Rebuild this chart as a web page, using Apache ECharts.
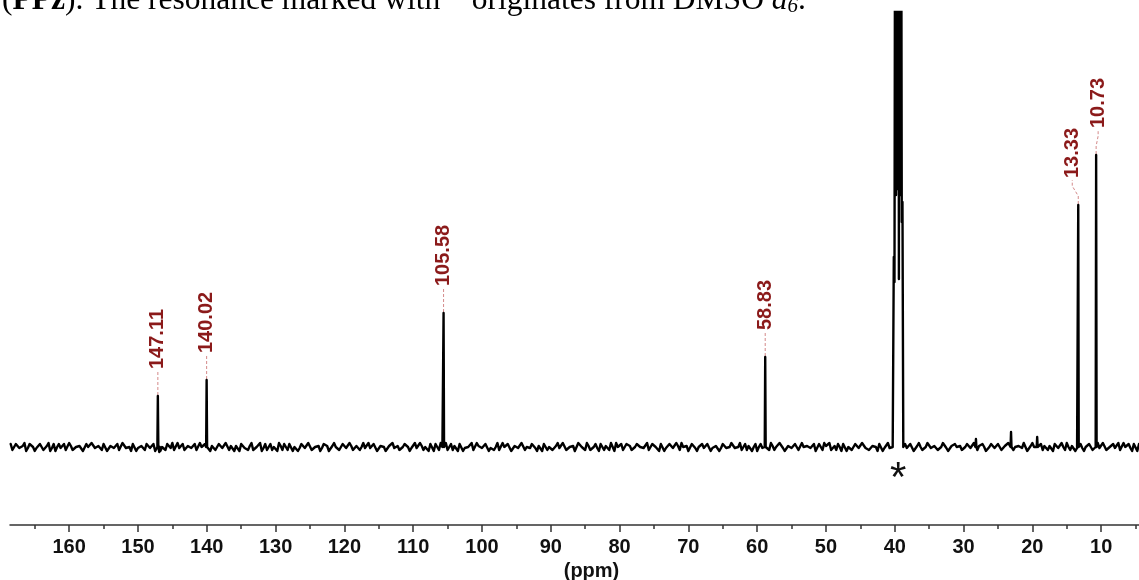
<!DOCTYPE html>
<html><head><meta charset="utf-8">
<script src="https://cdn.jsdelivr.net/npm/echarts@6/dist/echarts.min.js"></script>
<style>html,body{margin:0;padding:0;background:#fff}#c{width:1139px;height:580px}</style>
</head><body><div id="c"></div>
<script>
// ---- axis ticks (ppm) ----
const majorTicks = [10,20,30,40,50,60,70,80,90,100,110,120,130,140,150,160];
const minorTicks = [5,15,25,35,45,55,65,75,85,95,105,115,125,135,145,155,165];
// ---- labelled resonances ----
const peakPpm    = [147.11, 140.02, 105.58, 58.83, 13.33, 10.73];
const peakHeight = [51, 67, 134, 90, 242, 292];
const peakLabels = ['147.11', '140.02', '105.58', '58.83', '13.33', '10.73'];
// ---- small unlabelled signals ----
const minorPpm    = [146.9, 28.2, 23.1, 19.3];
const minorHeight = [-5, 8, 15, 10];
// ---- DMSO-d6 solvent multiplet (runs off the top) ----
const solventPpm    = [40.30, 40.14, 40.04, 39.93, 39.82, 39.72, 39.61, 39.51, 39.40, 39.30, 39.19, 39.09, 38.98, 38.88, 38.76];
const solventHeight = [0, 190, 165, 700, 252, 1300, 258, 1500, 168, 1300, 252, 700, 225, 245, 0];
// ---- baseline noise: A every 0.5 ppm from 168.5, B every 0.5 ppm from 168.25 ----
const noiseStartA = 168.5, noiseStartB = 168.25, noiseStep = 0.5;
const noiseA = [
3,-4,1,-3,4,-1,3,-4,0,3,-3,4,-1,-4,3,1,-3,4,-3,0,
1,-4,3,-1,4,-3,0,3,-4,1,-1,3,-3,4,0,-4,3,-1,1,-3,
4,-1,-4,3,0,-3,1,4,-3,-1,3,-4,1,0,-3,4,-1,3,-4,1,
-1,3,-3,4,1,-4,0,3,-1,-3,4,-1,1,-4,3,0,-3,1,4,-3,
0,3,-4,1,-1,4,-3,3,-1,0,-4,3,1,-3,4,-1,0,3,-3,1,
-4,3,0,-1,4,-3,1,-3,3,-4,1,4,-1,-3,0,3,-4,1,-1,4,
-3,1,3,-4,0,4,-1,-3,3,1,-4,3,-1,0,4,-3,1,-1,3,-4,
1,0,-3,4,-1,3,-4,1,-3,3,0,-1,4,-4,1,3,-3,0,-1,4,
-3,3,-1,1,-4,4,0,-3,1,-1,3,-4,3,1,-3,0,4,-1,-3,3,
1,-4,3,0,-1,4,-3,1,-1,3,-4,0,3,-3,1,4,-1,-4,3,-1,
0,3,-3,4,-1,1,-4,3,-1,0,3,-3,4,-1,-3,1,0,-4,3,1,
-1,4,-3,0,3,-4,1,-1,3,-3,4,0,-1,1,-4,3,-3,1,4,-1,
-3,0,3,-4,1,-1,4,-3,3,0,-1,1,-4,3,-1,4,-3,1,0,-3,
3,-1,1,-4,4,-3,0,3,-1,1,-3,4,-1,-4,3,0,1,-3,3,-1,
4,-3,1,0,-4,3,-1,3,-3,1,4,-4,0,1,-1,3,-3,4,-1,0,
-3,3,1,-4,3,-1,0,4,-3,1,-1,3,-4,1,0,-3,4,-1,3,-3,
1,-1,4,-3,0,3,-4,1,3,-1,-3,4,0,-1,3,-4,1,-3,4,-1
];
const noiseB = [
-3,3,-1,1,-4,3,0,-1,3,-3,1,-4,3,0,-1,3,-3,1,-4,1,
3,-3,0,4,-1,1,-3,3,-4,0,1,-3,4,-1,0,3,-4,1,-1,3,
-1,3,0,-4,1,3,-1,-3,4,0,-3,1,-1,3,-4,0,3,-1,1,-3,
3,-1,4,-3,0,1,-4,3,-1,1,-3,0,4,-1,-3,3,0,-4,1,3,
-3,1,0,-4,3,-1,4,-3,0,1,-1,3,-4,1,0,-3,3,-1,4,-3,
1,-3,4,0,-1,3,-4,1,0,-3,3,-1,1,-4,3,0,-1,4,-3,1,
0,-4,1,3,-3,0,4,-1,-3,1,3,-4,0,1,-3,4,-1,0,3,-1,
-3,4,-1,0,3,-4,1,-1,4,-3,0,3,-1,1,-4,3,0,-3,1,-1,
4,-3,0,1,-3,3,-1,4,-3,0,-1,3,-3,1,4,-4,0,3,-1,1,
-3,0,4,-1,1,-3,3,0,-4,1,-1,3,-1,4,-3,0,1,-3,3,-4,
1,-1,3,-4,0,3,-1,1,-3,4,-1,0,-3,3,1,-4,3,0,-1,3,
-3,1,0,4,-1,-3,3,-1,4,-4,0,1,-1,3,-3,0,4,-1,-3,1,
3,-4,1,0,-3,3,-1,4,-1,-3,1,0,3,-4,1,-1,3,-3,4,0,
-1,3,-4,1,0,-3,4,-1,1,-3,0,3,-4,1,3,-1,-3,0,4,-1,
-3,1,3,-4,0,1,-3,4,-1,0,3,-3,1,-1,4,-4,1,0,-3,3,
1,-3,0,3,-1,4,-3,0,1,-4,3,-1,0,3,-3,1,-1,4,-3,0,
3,-1,-3,4,0,-1,3,-4,1,-3,0,4,-1,1,-3,3,-4,0,1,-1
];

// ---- layout / style ----
const labelDx = [0, 0, 0, 0, -6, 2];   // horizontal shift (px) of the two crowded labels
const LEAD = 24;                      // connector length (px)
const SANS = '"Liberation Sans", Arial, sans-serif';
const SERIF = '"Liberation Serif", "Times New Roman", serif';

// build spectrum trace
const allPeaks = peakPpm.concat(minorPpm);
const pts = [];
function addNoise(arr, start) {
  arr.forEach((v, i) => {
    const p = start - i * noiseStep;
    if (p > solventPpm[solventPpm.length - 1] - 0.1 && p < solventPpm[0] + 0.1) return;
    if (allPeaks.some(q => Math.abs(q - p) < 0.15)) return;
    pts.push([p, v]);
  });
}
addNoise(noiseA, noiseStartA);
addNoise(noiseB, noiseStartB);
peakPpm.forEach((p, i) => pts.push([p + 0.07, 0], [p, peakHeight[i]], [p - 0.07, 0]));
minorPpm.forEach((p, i) => pts.push([p + 0.07, 0], [p, minorHeight[i]], [p - 0.07, 0]));
solventPpm.forEach((p, i) => pts.push([p, solventHeight[i]]));
pts.sort((a, b) => b[0] - a[0]);

const chart = echarts.init(document.getElementById('c'), null, {renderer: 'canvas'});
const xBase = {type: 'value', inverse: true, min: 4.5, max: 168.6, position: 'bottom', splitLine: {show: false}};
chart.setOption({
  animation: false,
  backgroundColor: '#fff',
  grid: {left: 10, right: 0, top: 12, bottom: 55, containLabel: false, outerBoundsMode: 'none'},
  xAxis: [
    Object.assign({}, xBase, {
      axisLine: {show: true, onZero: false, lineStyle: {color: '#333', width: 1.5}},
      axisTick: {show: true, customValues: majorTicks, length: 7, lineStyle: {color: '#333', width: 1.5}},
      axisLabel: {show: true, customValues: majorTicks, margin: 12, color: '#111',
                  fontFamily: SANS, fontWeight: 'bold', fontSize: 20},
      name: '(ppm)', nameLocation: 'middle', nameGap: 34,
      nameTextStyle: {fontFamily: SANS, fontWeight: 'bold', fontSize: 20, color: '#111', padding: [0, 0, 0, 34]}
    }),
    Object.assign({}, xBase, {
      axisLine: {show: false, onZero: false},
      axisTick: {show: true, customValues: minorTicks, length: 4, lineStyle: {color: '#333', width: 1.5}},
      axisLabel: {show: false}
    })
  ],
  yAxis: {type: 'value', min: -78, max: 435, show: false},
  series: [
    {
      type: 'line', data: pts, showSymbol: false, symbol: 'none', clip: true, sampling: null,
      lineStyle: {color: '#000', width: 2.4, join: 'round', cap: 'round'}, silent: true
    },
    {
      type: 'custom', coordinateSystem: 'cartesian2d', clip: false, silent: true,
      data: peakPpm.map((p, i) => [p, peakHeight[i], i]),
      renderItem: function (params, api) {
        const i = api.value(2);
        const pt = api.coord([api.value(0), api.value(1)]);
        const dx = labelDx[i];
        const x0 = pt[0], y0 = pt[1] - 1;
        const line = dx === 0 ? [[x0, y0], [x0, y0 - LEAD]]
          : [[x0, y0], [x0, y0 - 8], [x0 + dx, y0 - 18], [x0 + dx, y0 - LEAD]];
        return {type: 'group', children: [
          {type: 'polyline', shape: {points: line},
           style: {stroke: '#d48a8a', lineWidth: 1, lineDash: [3, 2], fill: null}},
          {type: 'text', x: x0 + dx, y: y0 - LEAD - 2, rotation: Math.PI / 2,
           style: {text: peakLabels[i], fill: '#8b1a1a', font: 'bold 20px ' + SANS,
                   align: 'left', verticalAlign: 'middle'}}
        ]};
      }
    },
    {
      type: 'custom', coordinateSystem: 'cartesian2d', clip: false, silent: true,
      data: [[solventPpm[7], 0]],
      renderItem: function (params, api) {
        const pt = api.coord([api.value(0), api.value(1)]);
        return {type: 'text', x: pt[0], y: pt[1] + 32,
                style: {text: '*', fill: '#111', font: '42px ' + SANS, align: 'center', verticalAlign: 'middle'}};
      }
    }
  ],
  graphic: [{
    type: 'text', left: 2, top: -15,
    style: {
      text: '({b|PPz}). The resonance marked with * originates from DMSO {i|d}{s|6}.',
      font: '31.5px ' + SERIF, fill: '#000',
      rich: {
        b: {fontFamily: SERIF, fontSize: 31.5, fontWeight: 'bold', fill: '#000'},
        i: {fontFamily: SERIF, fontSize: 31.5, fontStyle: 'italic', fill: '#000'},
        s: {fontFamily: SERIF, fontSize: 21, fontStyle: 'italic', fill: '#000', verticalAlign: 'bottom'}
      }
    }
  }]
});
</script></body></html>
